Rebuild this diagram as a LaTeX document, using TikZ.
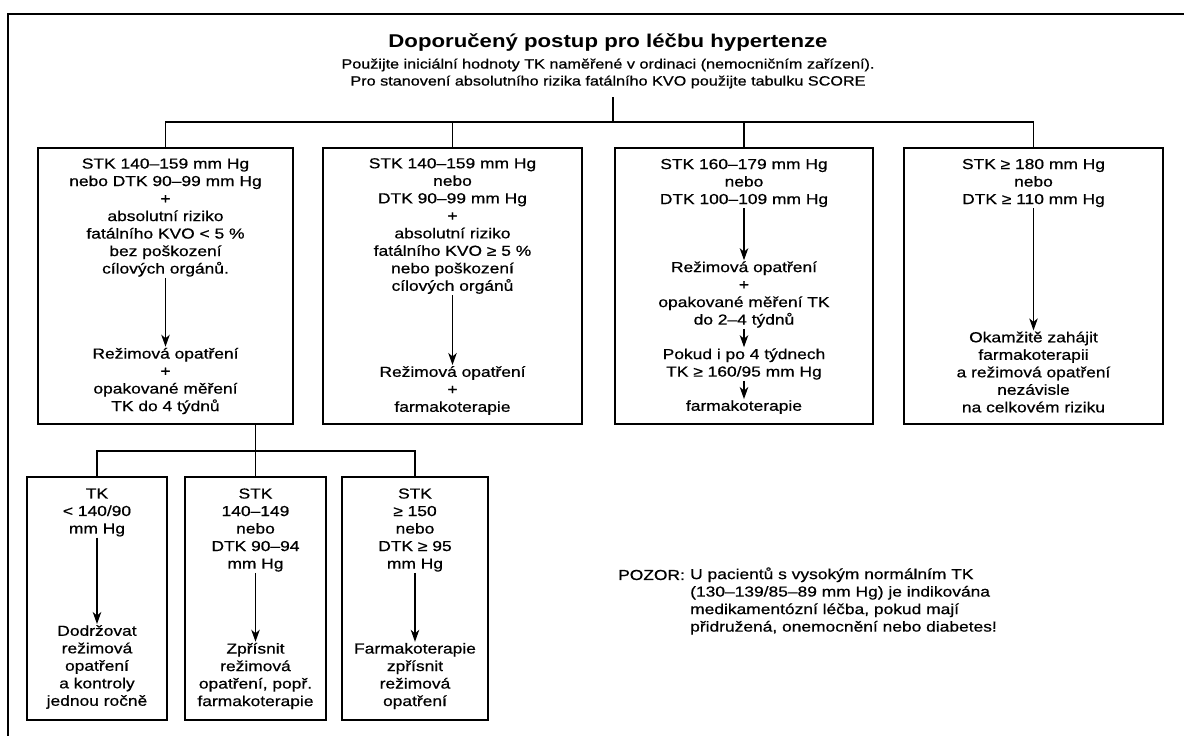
\documentclass[tikz,border=0pt]{standalone}
\usepackage{fontspec}
\setmainfont{Liberation Sans}[FakeStretch=1.2, FakeBold=0.7]
\newfontfamily\titlefont{Liberation Sans}[FakeStretch=1.2]
\usetikzlibrary{arrows.meta}
\newcommand{\bodyfont}{\fontsize{14.5}{17.5}\selectfont}
\newcommand{\subfont}{\fontsize{13.5}{17}\selectfont}
\begin{document}
\begin{tikzpicture}[x=1pt,y=-1pt,
  box/.style={draw, line width=1.3pt, inner sep=0pt},
  txt/.style={align=center, inner sep=1pt, font=\bodyfont},
  arr/.style={-{Stealth[length=12pt,width=8.5pt,inset=3.5pt]}, line width=1.2pt},
  ln/.style={line width=1.2pt}]
\useasboundingbox (0,0) rectangle (1184,736);
% frame
\draw[line width=1.3pt] (8,736) -- (8,14) -- (1184,14);
% header
\node[font={\titlefont\bfseries\fontsize{18.5}{22}\selectfont}] (title) at (608,43) {Doporučený postup pro léčbu hypertenze};
\node[align=center, inner sep=0pt, font=\subfont] (sub) at (608,73.5) {Použijte iniciální hodnoty TK naměřené v ordinaci (nemocničním zařízení).\\Pro stanovení absolutního rizika fatálního KVO použijte tabulku SCORE};
\coordinate (top) at (613,97);
\coordinate (jn) at (613,122);
% row 1 boxes
\node[box, minimum width=255pt, minimum height=276pt] (b1) at (165.5,286) {};
\node[box, minimum width=259pt, minimum height=276pt] (b2) at (452.5,286) {};
\node[box, minimum width=258pt, minimum height=276pt] (b3) at (744,286) {};
\node[box, minimum width=259pt, minimum height=276pt] (b4) at (1033.5,286) {};
% row 2 boxes
\node[box, minimum width=140pt, minimum height=243pt] (bA) at (97,598.5) {};
\node[box, minimum width=141pt, minimum height=243pt] (bB) at (255.5,598.5) {};
\node[box, minimum width=146pt, minimum height=243pt] (bC) at (415,598.5) {};
\coordinate (j2) at (255.5,451);
% connectors top
\draw[ln] (top) -- (jn);
\draw[ln] (b1.north) |- (b4.north |- jn) -- (b4.north);
\draw[ln] (b2.north) -- (b2.north |- jn);
\draw[ln] (b3.north) -- (b3.north |- jn);
% connectors row 2
\draw[ln] (b1.south -| bB.north) -- (bB.north);
\draw[ln] (bA.north) |- (bC.north |- j2) -- (bC.north);
% box 1
\node[txt] (t1a) at (165.5,217.5) {STK 140–159 mm Hg\\nebo DTK 90–99 mm Hg\\+\\absolutní riziko\\fatálního KVO < 5 \%\\bez poškození\\cílových orgánů.};
\node[txt] (t1b) at (165.5,381) {Režimová opatření\\+\\opakované měření\\TK do 4 týdnů};
\draw[arr] (t1a) -- (t1b);
% box 2
\node[txt] (t2a) at (452.5,226) {STK 140–159 mm Hg\\nebo\\DTK 90–99 mm Hg\\+\\absolutní riziko\\fatálního KVO ≥ 5 \%\\nebo poškození\\cílových orgánů};
\node[txt] (t2b) at (452.5,390.5) {Režimová opatření\\+\\farmakoterapie};
\draw[arr] (t2a) -- (t2b);
% box 3
\node[txt] (t3a) at (744,183) {STK 160–179 mm Hg\\nebo\\DTK 100–109 mm Hg};
\node[txt] (t3b) at (744,294.5) {Režimová opatření\\+\\opakované měření TK\\do 2–4 týdnů};
\node[txt] (t3c) at (744,364) {Pokud i po 4 týdnech\\TK ≥ 160/95 mm Hg};
\node[txt] (t3d) at (744,407) {farmakoterapie};
\draw[arr] (t3a) -- (t3b);
\draw[arr] (t3b) -- (t3c);
\draw[arr] (t3c) -- (t3d);
% box 4
\node[txt] (t4a) at (1033.5,183) {STK ≥ 180 mm Hg\\nebo\\DTK ≥ 110 mm Hg};
\node[txt] (t4b) at (1033.5,372) {Okamžitě zahájit\\farmakoterapii\\a režimová opatření\\nezávisle\\na celkovém riziku};
\draw[arr] (t4a) -- (t4b);
% box A
\node[txt] (tAa) at (97,512.5) {TK\\< 140/90\\mm Hg};
\node[txt] (tAb) at (97,667) {Dodržovat\\režimová\\opatření\\a kontroly\\jednou ročně};
\draw[arr] (tAa) -- (tAb);
% box B
\node[txt] (tBa) at (255.5,530) {STK\\140–149\\nebo\\DTK 90–94\\mm Hg};
\node[txt] (tBb) at (255.5,676) {Zpřísnit\\režimová\\opatření, popř.\\farmakoterapie};
\draw[arr] (tBa) -- (tBb);
% box C
\node[txt] (tCa) at (415,530) {STK\\≥ 150\\nebo\\DTK ≥ 95\\mm Hg};
\node[txt] (tCb) at (415,676) {Farmakoterapie\\zpřísnit\\režimová\\opatření};
\draw[arr] (tCa) -- (tCb);
% note
\node[anchor=west, inner sep=0pt, font=\bodyfont] (pz) at (618,575) {POZOR:};
\node[anchor=west, align=left, inner sep=0pt, font=\bodyfont] (note) at (690,601) {U pacientů s vysokým normálním TK\\(130–139/85–89 mm Hg) je indikována\\medikamentózní léčba, pokud mají\\přidružená, onemocnění nebo diabetes!};
\end{tikzpicture}
\end{document}
